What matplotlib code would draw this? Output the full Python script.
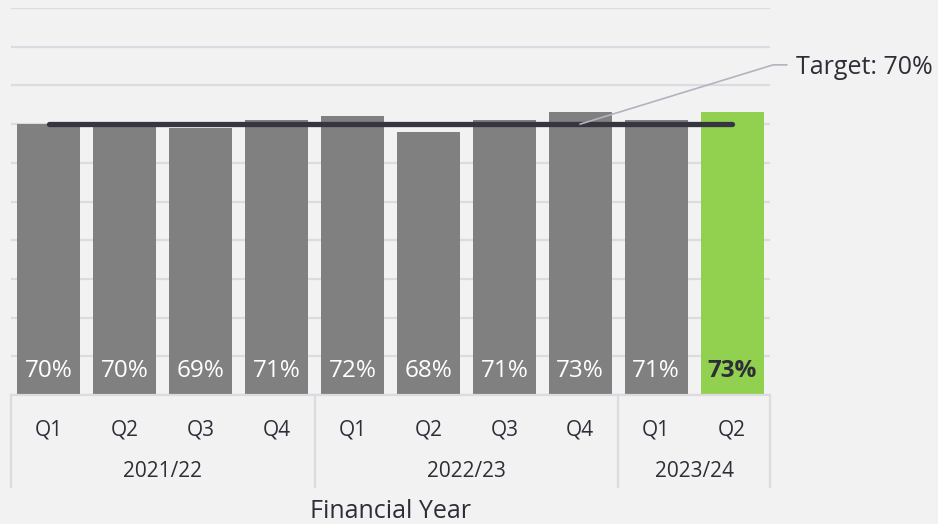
import matplotlib.pyplot as plt
from matplotlib.transforms import blended_transform_factory

plt.rcParams['font.family'] = ['Open Sans', 'DejaVu Sans']

quarters = ['Q1', 'Q2', 'Q3', 'Q4', 'Q1', 'Q2', 'Q3', 'Q4', 'Q1', 'Q2']
years = ['2021/22', '2022/23', '2023/24']
year_sizes = [4, 4, 2]
values = [70, 70, 69, 71, 72, 68, 71, 73, 71, 73]
target = 70

bg = '#f2f2f2'
grid_c = '#dcdbe2'
text_c = '#2e2e38'

fig = plt.figure(figsize=(9.38, 5.24), dpi=100, facecolor=bg)
ax = fig.add_axes([11 / 938, 129 / 524, 759 / 938, 387 / 524])
ax.set_facecolor(bg)

x = list(range(len(values)))
colors = ['#808080'] * (len(values) - 1) + ['#92d050']
ax.bar(x, values, width=0.83, color=colors, zorder=2)

ax.set_xlim(-0.5, len(values) - 0.5)
ax.set_ylim(0, 100)
ax.set_yticks(range(0, 101, 10))
ax.yaxis.grid(True, color=grid_c, linewidth=1.6, zorder=0)
ax.set_axisbelow(True)
ax.tick_params(left=False, labelleft=False, bottom=False, labelbottom=False)
for s in ax.spines.values():
    s.set_visible(False)

# data labels at bottom of bars
for i, v in enumerate(values):
    last = i == len(values) - 1
    ax.text(i, 6.2, f'{v}%', ha='center', va='center', fontsize=17.5,
            color=text_c if last else 'white',
            fontweight='bold' if last else 'normal', zorder=3)

# target line
ax.plot([0, len(values) - 1], [target, target], color='#363640', linewidth=3.8,
        solid_capstyle='round', zorder=4)
ax.plot([7.0, 9.54, 9.72], [70, 85.3, 85.3], color='#b4b2bd', linewidth=1.2,
        clip_on=False, zorder=5)
ax.text(9.84, 84.6, f'Target: {target}%', ha='left', va='center', fontsize=18,
        color=text_c, clip_on=False)

# category axis
tr = blended_transform_factory(ax.transData, ax.transAxes)
ax.plot([-0.5, len(values) - 0.5], [0, 0], color=grid_c, linewidth=1.6,
        transform=tr, clip_on=False)
for i, q in enumerate(quarters):
    ax.text(i, -0.09, q, ha='center', va='center', fontsize=15, color=text_c,
            transform=tr)
start = -0.5
ax.plot([start, start], [0, -0.238], color=grid_c, linewidth=1.6,
        transform=tr, clip_on=False)
for y, n in zip(years, year_sizes):
    end = start + n
    ax.plot([end, end], [0, -0.238], color=grid_c, linewidth=1.6,
            transform=tr, clip_on=False)
    ax.text((start + end) / 2, -0.198, y, ha='center', va='center',
            fontsize=15, color=text_c, transform=tr)
    start = end

ax.text(0.5, -0.3, 'Financial Year', ha='center', va='center', fontsize=18,
        color=text_c, transform=ax.transAxes)

fig.savefig('out.png', dpi=100, facecolor=bg)
